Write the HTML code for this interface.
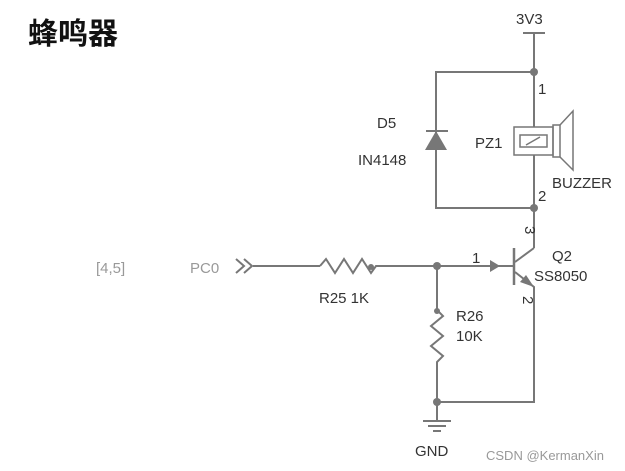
<html><body style="margin:0;background:#fff">
<svg width="625" height="471" xmlns="http://www.w3.org/2000/svg" font-family="Liberation Sans, sans-serif">
<text x="28" y="44" font-size="30" font-weight="bold" font-family="Liberation Sans, Noto Sans CJK SC, sans-serif" fill="#111">蜂鸣器</text>
<g stroke="#777" stroke-width="2" fill="none">
<line x1="523" y1="33" x2="545" y2="33"/>
<line x1="534" y1="33" x2="534" y2="127"/>
<line x1="534" y1="155" x2="534" y2="248"/>
<polyline points="534,72 436,72 436,208 534,208"/>
<line x1="426" y1="131" x2="448" y2="131"/>
<rect x="514" y="127" width="39" height="28" stroke-width="1.5"/>
<rect x="520" y="135" width="27" height="12" stroke-width="1.5"/>
<line x1="526" y1="145" x2="540" y2="137" stroke-width="1.5"/>
<rect x="553" y="125" width="7" height="32" stroke-width="1.5"/>
<polyline points="560,125 573,111 573,170 560,157" stroke-width="1.5"/>
<polyline points="534,248 515,262"/>
<line x1="514" y1="248" x2="514" y2="285" stroke-width="2.5"/>
<polyline points="515,272 534,287 534,402 437,402"/>
<line x1="253" y1="266" x2="320" y2="266"/>
<polyline points="320,266 326,259 335,273 344,259 353,273 362,259 371,273 376,266 513,266"/>
<polyline points="437,266 437,310 443,316 431,326 443,336 431,346 443,356 437,362 437,420"/>
<polyline points="236,259 244,266 236,273"/>
<polyline points="244,259 252,266 244,273"/>
<line x1="423" y1="421" x2="451" y2="421"/>
<line x1="428" y1="426" x2="446" y2="426"/>
<line x1="433" y1="431" x2="441" y2="431"/>
</g>
<g fill="#777">
<polygon points="425,150 447,150 436,131"/>
<circle cx="534" cy="72" r="4"/><circle cx="534" cy="208" r="4"/>
<circle cx="437" cy="266" r="4"/><circle cx="437" cy="402" r="4"/>
<circle cx="371" cy="267" r="3"/><circle cx="437" cy="311" r="3"/>
<polygon points="490,260 500,266 490,272"/>
<polygon points="534,287 520,282 526,275"/>
</g>
<g font-size="15" fill="#333">
<text x="516" y="24">3V3</text>
<text x="538" y="94">1</text>
<text x="538" y="201">2</text>
<text x="377" y="128">D5</text>
<text x="358" y="165">IN4148</text>
<text x="475" y="148">PZ1</text>
<text x="552" y="188">BUZZER</text>
<text x="526" y="235" transform="rotate(90 530 230)">3</text>
<text x="472" y="263">1</text>
<text x="552" y="261">Q2</text>
<text x="534" y="281">SS8050</text>
<text x="523" y="304" transform="rotate(90 527 300)">2</text>
<text x="96" y="273" fill="#999">[4,5]</text>
<text x="190" y="273" fill="#999">PC0</text>
<text x="319" y="303">R25 1K</text>
<text x="456" y="321">R26</text>
<text x="456" y="341">10K</text>
<text x="415" y="456">GND</text>
</g>
<text x="486" y="460" font-size="13" fill="#999">CSDN @KermanXin</text>
</svg>
</body></html>
